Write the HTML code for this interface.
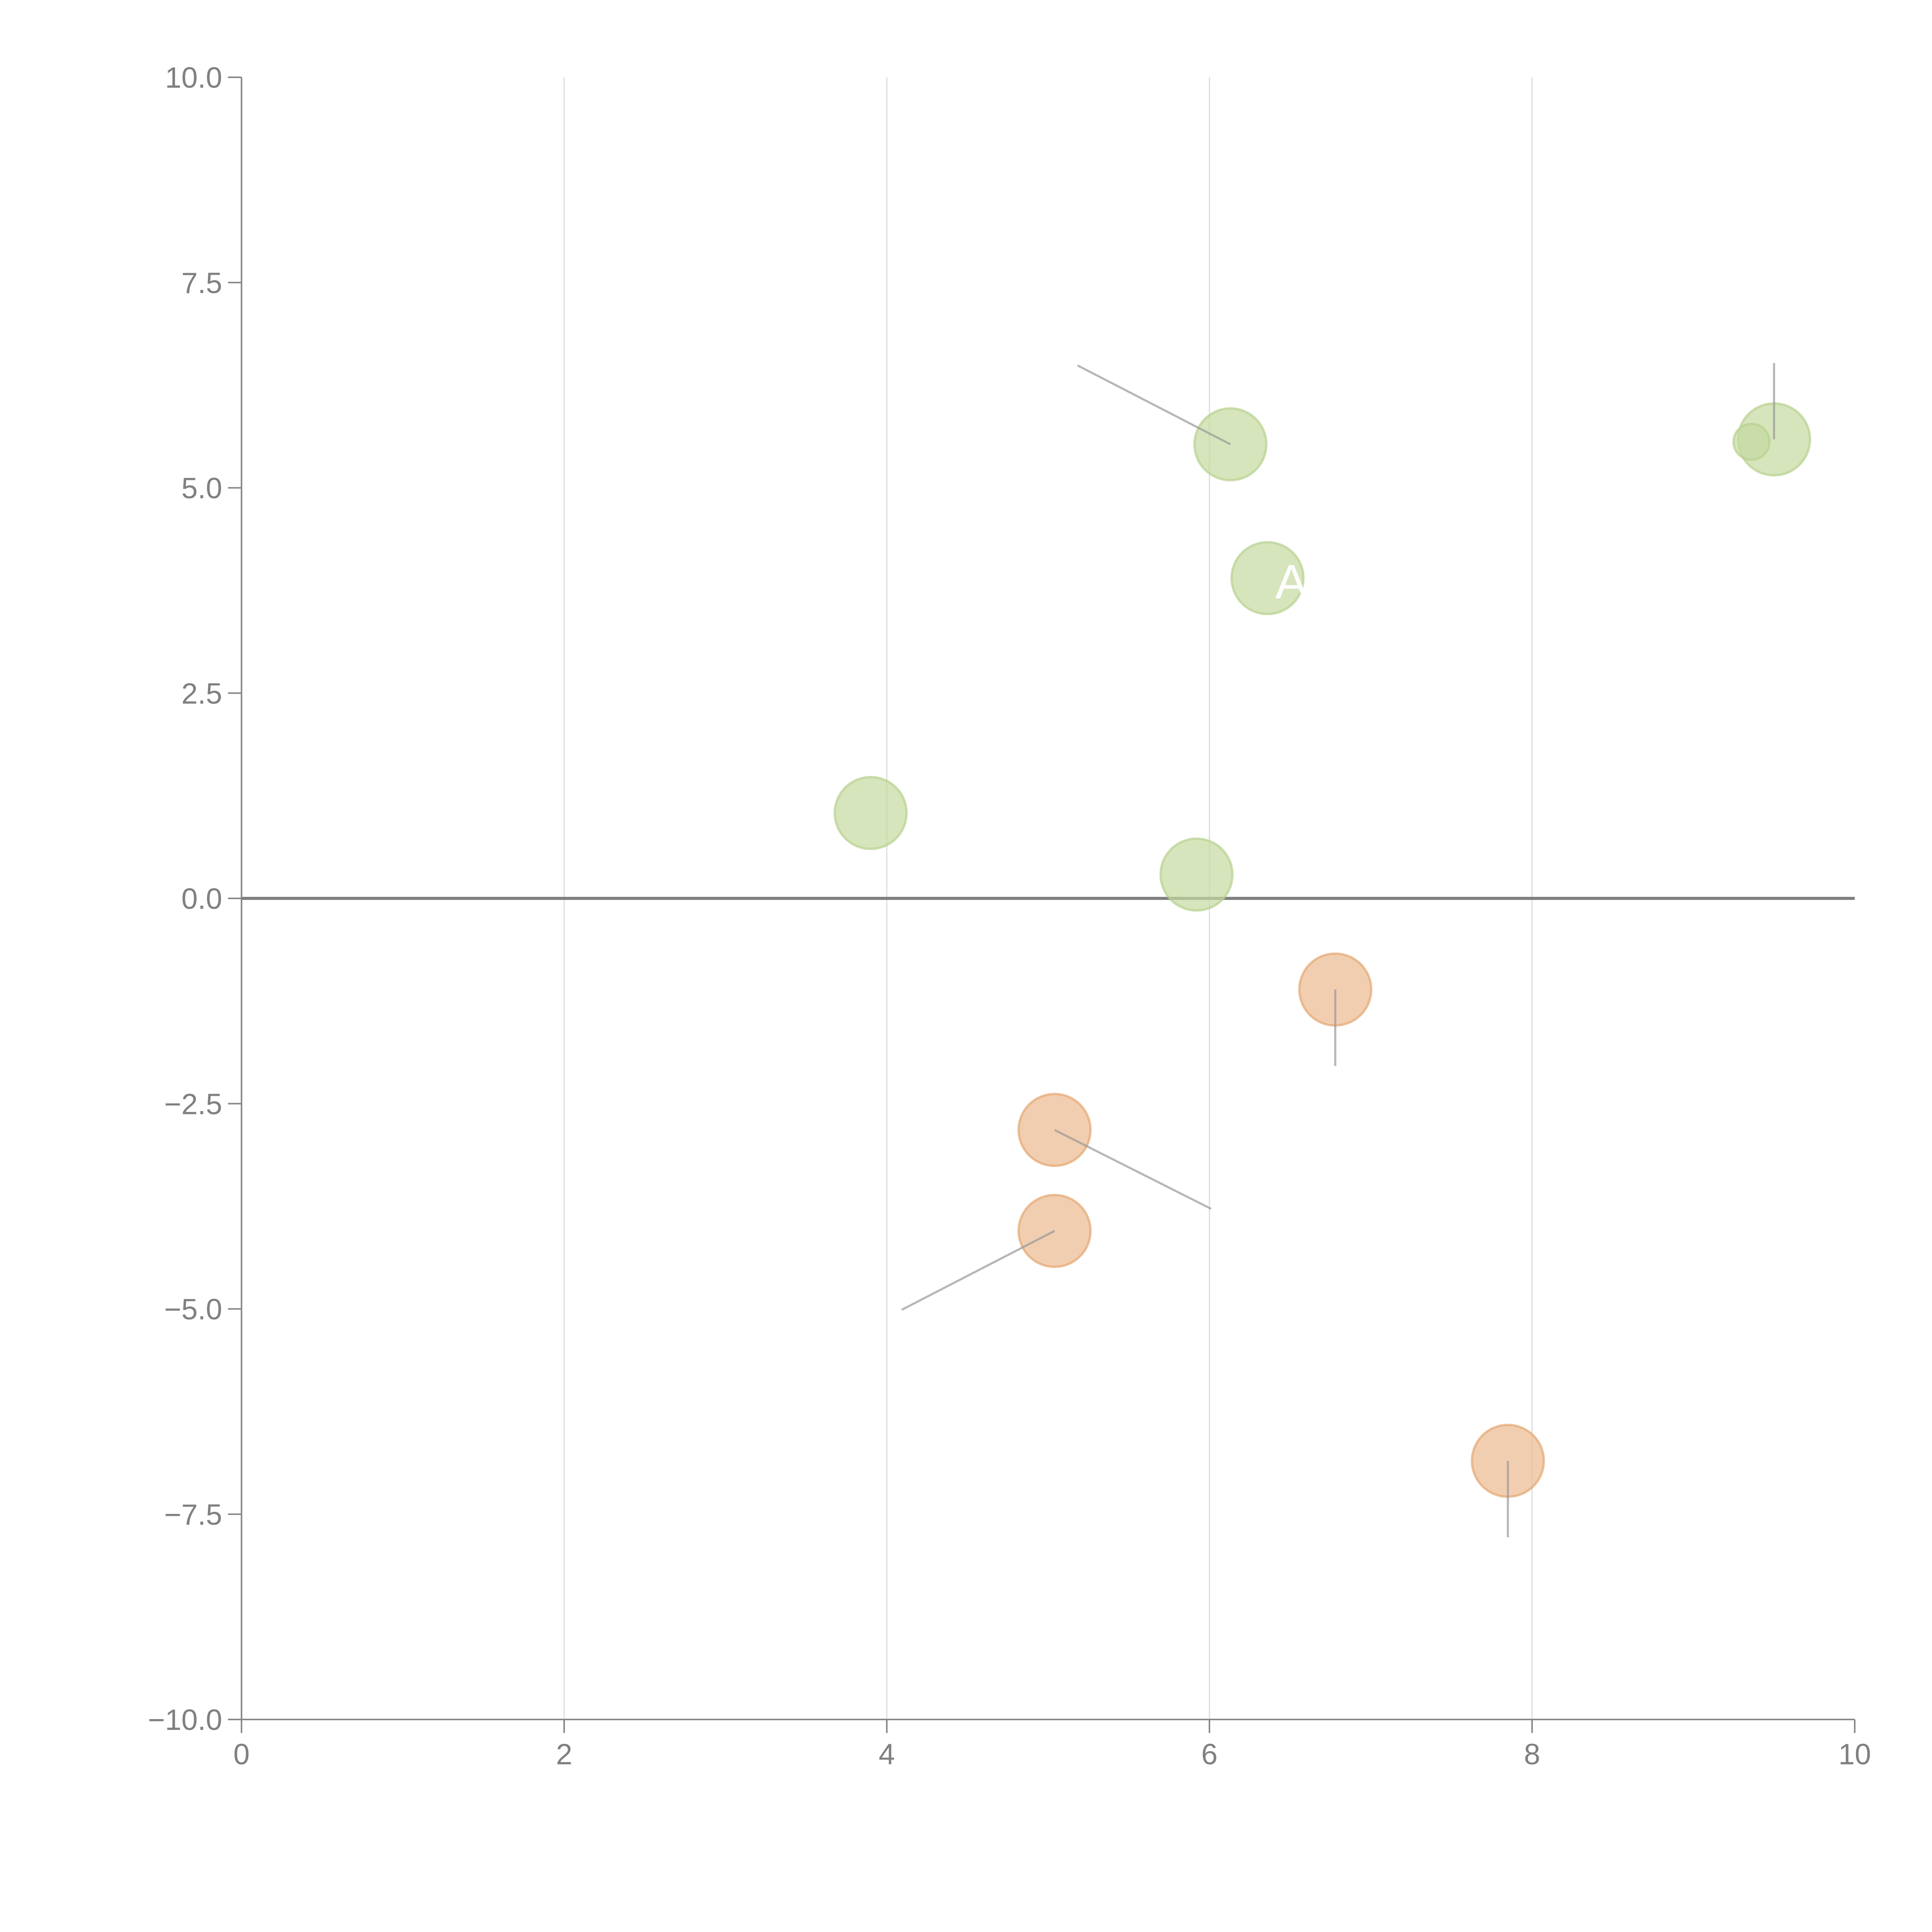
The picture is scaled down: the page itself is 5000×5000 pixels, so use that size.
<!DOCTYPE html>
<html><head><meta charset="utf-8"><style>
html,body{margin:0;padding:0;background:#fff}
svg{display:block}
text{font-family:"Liberation Sans",sans-serif}
</style></head><body>
<svg id="chart" width="5000" height="5000" viewBox="0 0 5000 5000" xmlns="http://www.w3.org/2000/svg"></svg>
<script>
const xTicks = [0,2,4,6,8,10];
const yTicks = [10,7.5,5,2.5,0,-2.5,-5,-7.5,-10];
const yTickLabels = ["10.0","7.5","5.0","2.5","0.0","\u22122.5","\u22125.0","\u22127.5","\u221210.0"];
const ptX = [6.13,6.36,9.50,9.36,3.90,5.92,6.78,5.04,5.04,7.85];
const ptY = [5.53,3.90,5.59,5.56,1.04,0.29,-1.11,-2.82,-4.05,-6.85];
const ptGroup = ["pos","pos","pos","pos","pos","pos","neg","neg","neg","neg"];
const ptSize = [1,1,1,0.5,1,1,1,1,1,1];
const ptLabel = ["B","A","C","D","E","F","G","H","I","J"];

const svg = document.getElementById('chart');
const NS = "http://www.w3.org/2000/svg";
const K = 3.19;
const L=625,R=4800,T=200,B=4450;
const sx = v => L + v/10*(R-L);
const sy = v => B - (v+10)/20*(B-T);
function mk(tag, attrs){const e=document.createElementNS(NS,tag);for(const k in attrs)e.setAttribute(k,attrs[k]);svg.appendChild(e);return e;}

xTicks.forEach(t=>{
  if(t>0&&t<10){const g=mk('line',{x1:sx(t),x2:sx(t),y1:T,y2:B,stroke:'#dcdcdc','stroke-width':3});
  
  }
});
let a=mk('line',{x1:L,x2:L,y1:T,y2:B,stroke:'#888','stroke-width':4});


a=mk('line',{x1:L,x2:R,y1:B,y2:B,stroke:'#888','stroke-width':4});


xTicks.forEach(t=>{
  const tk=mk('line',{x1:sx(t),x2:sx(t),y1:B,y2:B+35,stroke:'#888','stroke-width':4});
  
  
  const tx=mk('text',{x:sx(t),y:B+116,'text-anchor':'middle','font-size':76,fill:'#808080'});
  tx.textContent=t;
  
  
});
yTicks.forEach((t,i)=>{
  const tk=mk('line',{x1:L-35,x2:L,y1:sy(t),y2:sy(t),stroke:'#888','stroke-width':4});
  
  
  const tx=mk('text',{x:L-50,y:sy(t)+27,'text-anchor':'end','font-size':76,fill:'#808080'});
  tx.textContent=yTickLabels[i];
  
  
});
a=mk('line',{x1:L,x2:R,y1:sy(0),y2:sy(0),stroke:'#808080','stroke-width':8});



const lead = [[-124,-64],[0,0],[0,-62],null,[0,0],[0,0],[0,62],[127,64],[-124,64],[0,62]];
ptX.forEach((v,i)=>{
  const cx=sx(v), cy=sy(ptY[i]);
  const pos=ptGroup[i]==='pos';
  const c=mk('circle',{cx:cx,cy:cy,r:93*ptSize[i],fill:pos?'#c4daa0':'#ecb98e','fill-opacity':0.7,stroke:pos?'#b8d28e':'#e4a873','stroke-opacity':0.7,'stroke-width':6});
  
  
});
ptX.forEach((v,i)=>{
  const o=lead[i]; if(!o||(o[0]===0&&o[1]===0))return;
  const cx=sx(v), cy=sy(ptY[i]);
  const ln=mk('line',{x1:cx,y1:cy,x2:cx+o[0]*K,y2:cy+o[1]*K,stroke:'#999','stroke-opacity':0.7,'stroke-width':5.5});
  
  
});
const lab=mk('text',{x:sx(ptX[1])+20,y:sy(ptY[1])+52,'font-size':125,fill:'#fff'});
lab.textContent=ptLabel[1];


</script>
</body></html>
